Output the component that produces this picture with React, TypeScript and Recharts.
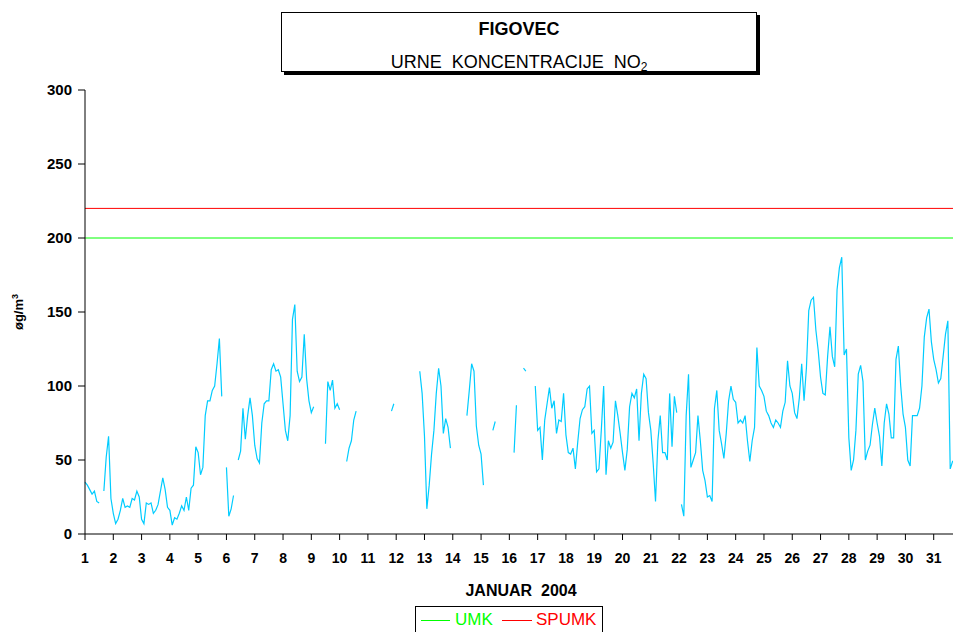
import React from 'react';
import { LineChart, Line, XAxis, YAxis, ReferenceLine } from 'recharts';

// Hourly NO2 (sampled every 2 hours), one array per day, January 2004, Figovec
const day01 = [35, 33, 30, 27, 29, 22, 21, null, 29, 52, 66, 24];
const day02 = [14, 7, 10, 16, 24, 18, 19, 18, 24, 23, 29, 25];
const day03 = [10, 7, 21, 20, 21, 14, 16, 20, 29, 38, 30, 18];
const day04 = [16, 6, 11, 10, 14, 19, 16, 25, 16, 31, 33, 59];
const day05 = [55, 40, 45, 80, 90, 90, 97, 100, 115, 132, 93, null];
const day06 = [45, 12, 17, 26, null, 50, 56, 85, 64, 80, 92, 80];
const day07 = [60, 51, 48, 75, 88, 90, 90, 111, 115, 110, 111, 106];
const day08 = [88, 70, 63, 80, 145, 155, 110, 103, 106, 135, 105, 90];
const day09 = [82, 86, null, null, null, null, 61, 103, 97, 104, 85, 88];
const day10 = [84, null, null, 49, 58, 63, 77, 83, null, null, null, null];
const day11 = [null, null, null, null, null, null, null, null, null, null, 83, 88];
const day12 = [null, null, null, null, null, null, null, null, null, null, 110, 95];
const day13 = [66, 17, 33, 54, 70, 95, 112, 100, 68, 78, 72, 58];
const day14 = [null, null, null, null, null, null, 80, 97, 115, 110, 73, 60];
const day15 = [54, 33, null, null, null, 70, 76, null, null, null, null, null];
const day16 = [null, null, 55, 87, null, null, 112, 110, null, null, null, 100];
const day17 = [70, 72, 50, 77, 88, 99, 85, 90, 68, 77, 76, 95];
const day18 = [67, 55, 54, 58, 44, 62, 78, 84, 86, 98, 100, 68];
const day19 = [70, 42, 44, 70, 100, 40, 63, 58, 62, 90, 80, 68];
const day20 = [55, 43, 57, 86, 95, 92, 98, 63, 95, 108, 105, 82];
const day21 = [70, 48, 22, 63, 80, 55, 55, 50, 95, 59, 93, 82];
const day22 = [null, 20, 12, 80, 108, 45, 50, 55, 80, 63, 43, 36];
const day23 = [25, 26, 22, 85, 97, 70, 61, 51, 68, 90, 100, 91];
const day24 = [89, 75, 77, 75, 80, 63, 49, 63, 72, 126, 100, 97];
const day25 = [93, 83, 80, 75, 72, 77, 75, 72, 83, 89, 117, 100];
const day26 = [95, 82, 78, 92, 115, 90, 112, 151, 158, 160, 138, 124];
const day27 = [106, 95, 94, 120, 140, 120, 113, 165, 180, 187, 121, 125];
const day28 = [65, 43, 50, 70, 108, 114, 103, 50, 56, 60, 74, 85];
const day29 = [75, 66, 46, 75, 88, 81, 65, 65, 118, 127, 100, 81];
const day30 = [72, 50, 46, 80, 80, 80, 85, 100, 133, 146, 152, 130];
const day31 = [118, 111, 102, 105, 120, 135, 144, 44, 49, 50, null, null];

const days = [
  day01, day02, day03, day04, day05, day06, day07, day08, day09, day10,
  day11, day12, day13, day14, day15, day16, day17, day18, day19, day20,
  day21, day22, day23, day24, day25, day26, day27, day28, day29, day30, day31,
];

const HOURS_PER_SAMPLE = 2;
const dayNumbers = days.map((_, i) => i + 1);
const dayTicks = dayNumbers.map((d) => (d - 1) * 24);
const yTicks = [0, 50, 100, 150, 200, 250, 300];
const UMK = 200;
const SPUMK = 220;

const values: (number | null)[] = ([] as (number | null)[]).concat(...days);
const data = values.map((v, i) => ({ hour: i * HOURS_PER_SAMPLE, no2: v }));

const FONT = '"Liberation Sans", Arial, Helvetica, sans-serif';

export default function App() {
  return (
    <div
      style={{
        position: 'fixed',
        left: 0,
        top: 0,
        width: 953,
        height: 632,
        overflow: 'hidden',
        background: '#fff',
        fontFamily: FONT,
      }}
    >
      <LineChart
        width={980}
        height={632}
        data={data}
        margin={{ top: 90, right: 18, bottom: 68, left: 0 }}
      >
        <XAxis
          dataKey="hour"
          type="number"
          domain={[0, 744]}
          ticks={dayTicks}
          tickFormatter={(h: number) => String(h / 24 + 1)}
          interval={0}
          height={30}
          axisLine={{ stroke: '#000', strokeWidth: 1 }}
          tickLine={{ stroke: '#000' }}
          tickSize={6}
          tickMargin={13}
          tick={{ fontSize: 14, fontWeight: 'bold', fill: '#000', fontFamily: FONT }}
        />
        <YAxis
          type="number"
          domain={[0, 300]}
          ticks={yTicks}
          interval={0}
          width={85}
          axisLine={{ stroke: '#000', strokeWidth: 1 }}
          tickLine={{ stroke: '#000' }}
          tickSize={7}
          tickMargin={6}
          tick={{ fontSize: 15, fontWeight: 'bold', fill: '#000', fontFamily: FONT }}
        />
        <ReferenceLine y={UMK} stroke="#00FF00" strokeWidth={1} />
        <ReferenceLine y={SPUMK} stroke="#FF0000" strokeWidth={1} />
        <Line
          type="linear"
          dataKey="no2"
          stroke="#00CCFF"
          strokeWidth={1.2}
          dot={false}
          connectNulls={false}
          isAnimationActive={false}
        />
      </LineChart>

      {/* Title box */}
      <div
        style={{
          position: 'absolute',
          left: 281,
          top: 12,
          width: 476,
          height: 60,
          boxSizing: 'border-box',
          border: '1px solid #000',
          boxShadow: '3px 3px 0 #000',
          background: '#fff',
        }}
      >
        <div
          style={{
            position: 'absolute',
            left: 0,
            right: 0,
            top: 5,
            textAlign: 'center',
            fontWeight: 'bold',
            fontSize: 18,
            lineHeight: '22px',
            color: '#000',
          }}
        >
          FIGOVEC
        </div>
        <div
          style={{
            position: 'absolute',
            left: 0,
            right: 0,
            top: 38,
            textAlign: 'center',
            fontSize: 18,
            lineHeight: '22px',
            color: '#000',
            whiteSpace: 'pre',
          }}
        >
          {'URNE  KONCENTRACIJE  NO'}
          <span style={{ fontSize: 12, verticalAlign: -3 }}>2</span>
        </div>
      </div>

      {/* Y axis title */}
      <div
        style={{
          position: 'absolute',
          left: 18,
          top: 312,
          transform: 'translate(-50%, -50%) rotate(-90deg)',
          fontWeight: 'bold',
          fontSize: 13,
          whiteSpace: 'nowrap',
          color: '#000',
        }}
      >
        øg/m<sup style={{ fontSize: 9 }}>3</sup>
      </div>

      {/* X axis title */}
      <div
        style={{
          position: 'absolute',
          left: 521,
          top: 591,
          transform: 'translate(-50%, -50%)',
          fontWeight: 'bold',
          fontSize: 16,
          whiteSpace: 'pre',
          color: '#000',
        }}
      >
        {'JANUAR  2004'}
      </div>

      {/* Legend */}
      <div
        style={{
          position: 'absolute',
          left: 415,
          top: 606,
          width: 188,
          height: 40,
          boxSizing: 'border-box',
          border: '1px solid #000',
          background: '#fff',
        }}
      >
        <div style={{ position: 'absolute', left: 5, top: 13, width: 29, height: 1, background: '#00FF00' }} />
        <div style={{ position: 'absolute', left: 39, top: 3, fontSize: 17, lineHeight: '20px', color: '#00FF00' }}>UMK</div>
        <div style={{ position: 'absolute', left: 86, top: 13, width: 30, height: 1, background: '#FF0000' }} />
        <div style={{ position: 'absolute', left: 120, top: 3, fontSize: 17, lineHeight: '20px', color: '#FF0000' }}>SPUMK</div>
      </div>
    </div>
  );
}
